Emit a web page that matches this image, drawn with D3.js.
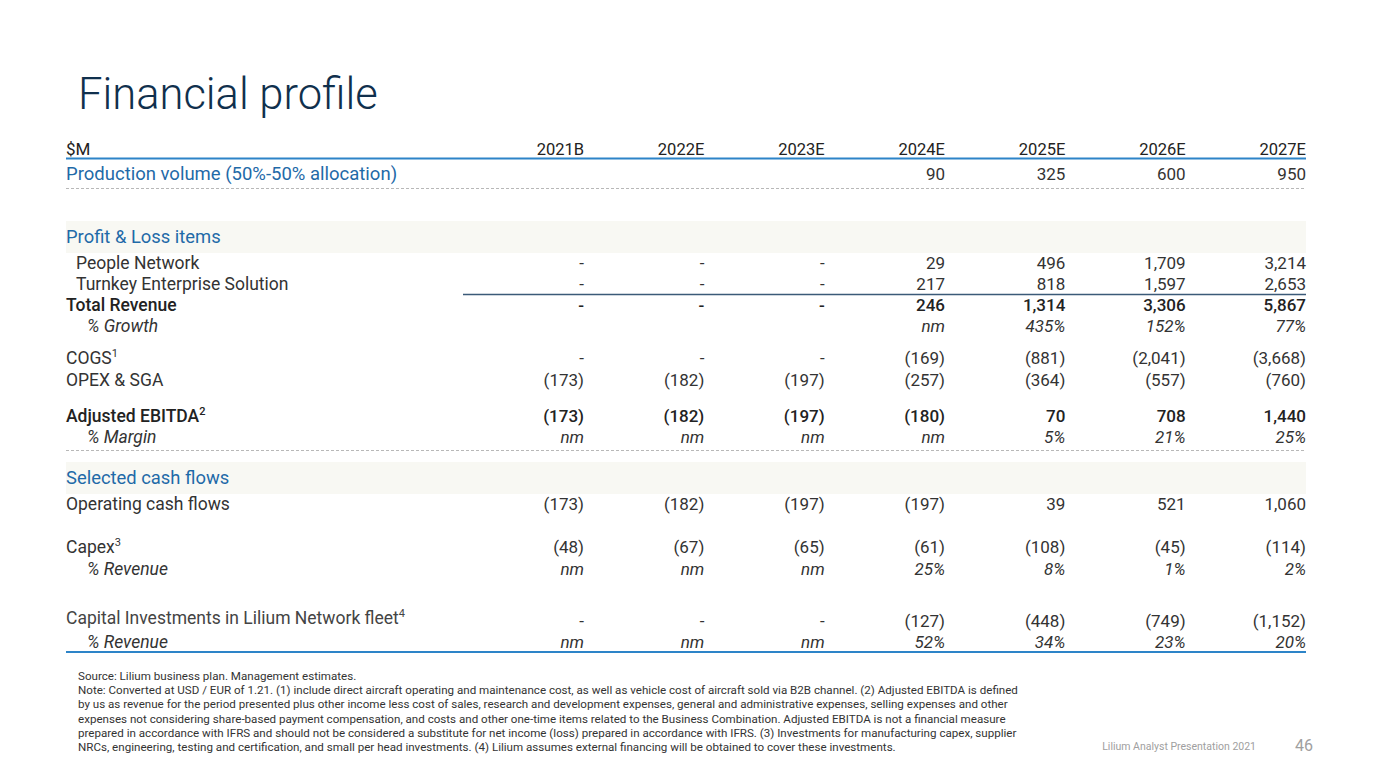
<!DOCTYPE html>
<html><head><meta charset="utf-8">
<script src="https://cdn.jsdelivr.net/npm/d3@7"></script>
<style>
html,body{margin:0;padding:0;background:#fff;}
svg{display:block;font-family:Roboto,"Liberation Sans",sans-serif;}
</style></head>
<body><svg id="c" width="1396" height="780"></svg>
<script>
const years = ["2021B","2022E","2023E","2024E","2025E","2026E","2027E"];
const productionVolume = ["","","","90","325","600","950"];
const peopleNetwork = ["-","-","-","29","496","1,709","3,214"];
const turnkeyEnterprise = ["-","-","-","217","818","1,597","2,653"];
const totalRevenue = ["-","-","-","246","1,314","3,306","5,867"];
const revenueGrowth = ["","","","nm","435%","152%","77%"];
const cogs = ["-","-","-","(169)","(881)","(2,041)","(3,668)"];
const opexSga = ["(173)","(182)","(197)","(257)","(364)","(557)","(760)"];
const adjEbitda = ["(173)","(182)","(197)","(180)","70","708","1,440"];
const ebitdaMargin = ["nm","nm","nm","nm","5%","21%","25%"];
const operatingCashFlows = ["(173)","(182)","(197)","(197)","39","521","1,060"];
const capex = ["(48)","(67)","(65)","(61)","(108)","(45)","(114)"];
const capexPctRevenue = ["nm","nm","nm","25%","8%","1%","2%"];
const fleetInvestments = ["-","-","-","(127)","(448)","(749)","(1,152)"];
const fleetPctRevenue = ["nm","nm","nm","52%","34%","23%","20%"];

const footnotes = [
 "Source: Lilium business plan. Management estimates.",
 "Note: Converted at USD / EUR of 1.21. (1) include direct aircraft operating and maintenance cost, as well as vehicle cost of aircraft sold via B2B channel. (2) Adjusted EBITDA is defined",
 "by us as revenue for the period presented plus other income less cost of sales, research and development expenses, general and administrative expenses, selling expenses and other",
 "expenses not considering share-based payment compensation, and costs and other one-time items related to the Business Combination. Adjusted EBITDA is not a financial measure",
 "prepared in accordance with IFRS and should not be considered a substitute for net income (loss) prepared in accordance with IFRS. (3) Investments for manufacturing capex, supplier",
 "NRCs, engineering, testing and certification, and small per head investments. (4) Lilium assumes external financing will be obtained to cover these investments."
];

const svg = d3.select("#c");
const L = 66, R = 1306;
const x = d3.scalePoint().domain(years).range([584, R]);
const TXT = "#333333", BLUE = "#1f6aa8", LINE = "#2d84c8";

// title
svg.append("text").attr("x",78).attr("y",109).attr("font-size",43.5).attr("font-weight",300)
  .attr("fill","#10304d").text("Financial profile");

// shaded bands
[[221,253],[462,494]].forEach(b=>{
  svg.append("rect").attr("x",L).attr("y",b[0]).attr("width",R-L).attr("height",b[1]-b[0]).attr("fill","#f8f8f3");
});

const rows = [
 {label:"$M", vals:years, y:155, color:"#222", size:16.5, lsize:17},
 {label:"Production volume (50%-50% allocation)", vals:productionVolume, y:180, color:BLUE, valColor:TXT, lsize:18.5},
 {label:"Profit & Loss items", vals:null, y:243, color:BLUE, lsize:18.4},
 {label:"People Network", vals:peopleNetwork, y:269, lx:76},
 {label:"Turnkey Enterprise Solution", vals:turnkeyEnterprise, y:290, lx:76},
 {label:"Total Revenue", vals:totalRevenue, y:311, weight:500, color:"#222"},
 {label:"% Growth", vals:revenueGrowth, y:332, lx:87, italic:true},
 {label:"COGS", sup:"1", vals:cogs, y:364},
 {label:"OPEX & SGA", vals:opexSga, y:386},
 {label:"Adjusted EBITDA", sup:"2", vals:adjEbitda, y:422, weight:500, color:"#222"},
 {label:"% Margin", vals:ebitdaMargin, y:443, lx:87, italic:true},
 {label:"Selected cash flows", vals:null, y:484, color:BLUE, lsize:18.4},
 {label:"Operating cash flows", vals:operatingCashFlows, y:510},
 {label:"Capex", sup:"3", vals:capex, y:553},
 {label:"% Revenue", vals:capexPctRevenue, y:575, lx:87, italic:true},
 {label:"Capital Investments in Lilium Network fleet", sup:"4", vals:fleetInvestments, y:627, ly:624, lcolor:"#444"},
 {label:"% Revenue", vals:fleetPctRevenue, y:648, lx:87, italic:true}
];

rows.forEach(r=>{
  const fs = r.size || 17;
  const ls = r.lsize || 17.5;
  const t = svg.append("text").attr("x", r.lx||L).attr("y", r.ly||r.y).attr("font-size",ls)
    .attr("fill", r.lcolor||r.color||TXT).attr("font-weight", r.weight||400)
    .attr("font-style", r.italic?"italic":"normal").text(r.label);
  if(r.sup){ t.append("tspan").attr("font-size",11).attr("dy",-7).text(r.sup); }
  if(r.vals){
    svg.append("g").selectAll("text").data(years).join("text")
      .attr("x", d=>x(d)).attr("y", r.y).attr("text-anchor","end").attr("font-size",fs)
      .attr("fill", r.valColor||r.color||TXT).attr("font-weight", r.weight||400)
      .attr("font-style", r.italic?"italic":"normal")
      .text((d,i)=>r.vals[i]);
  }
});

// lines
svg.append("line").attr("x1",L).attr("x2",R).attr("y1",158.5).attr("y2",158.5).attr("stroke",LINE).attr("stroke-width",2);
svg.append("line").attr("x1",L).attr("x2",R).attr("y1",188.5).attr("y2",188.5).attr("stroke","#b8b8b8").attr("stroke-width",1).attr("stroke-dasharray","3,2");
svg.append("line").attr("x1",463).attr("x2",R).attr("y1",294.5).attr("y2",294.5).attr("stroke","#3b5a78").attr("stroke-width",1.3);
svg.append("line").attr("x1",L).attr("x2",R).attr("y1",450.5).attr("y2",450.5).attr("stroke","#b8b8b8").attr("stroke-width",1).attr("stroke-dasharray","3,2");
svg.append("line").attr("x1",L).attr("x2",R).attr("y1",652).attr("y2",652).attr("stroke",LINE).attr("stroke-width",2);

// footnotes
svg.append("g").selectAll("text").data(footnotes).join("text")
  .attr("x",78).attr("y",(d,i)=>680+i*14.2).attr("font-size",11.6).attr("fill","#333").text(d=>d);

svg.append("text").attr("x",1256).attr("y",750).attr("text-anchor","end").attr("font-size",10.5).attr("fill","#a0a0a0").text("Lilium Analyst Presentation 2021");
svg.append("text").attr("x",1313).attr("y",751).attr("text-anchor","end").attr("font-size",16).attr("fill","#a0a0a0").text("46");
</script></body></html>
